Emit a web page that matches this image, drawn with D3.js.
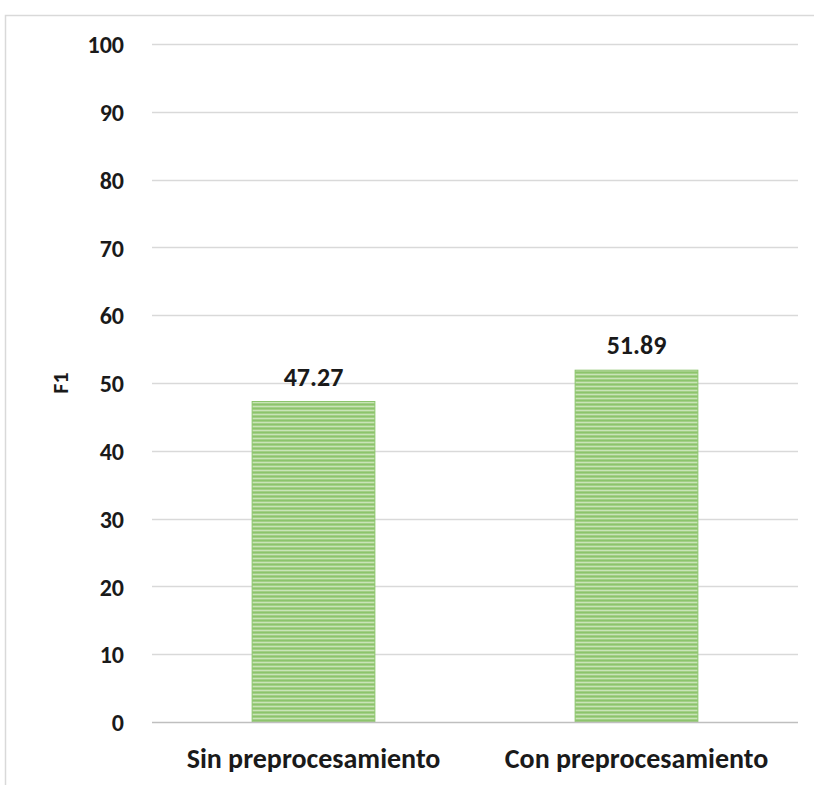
<!DOCTYPE html>
<html>
<head>
<meta charset="utf-8">
<script src="https://cdn.jsdelivr.net/npm/d3@7"></script>
<style>
  html, body { margin: 0; padding: 0; background: #ffffff; }
  svg { display: block; }
  text { font-family: Carlito, Calibri, Lato, "Open Sans", sans-serif; font-weight: bold; fill: #1a1a1a; }
</style>
</head>
<body>
<svg id="chart" width="814" height="785"></svg>
<script>
// Chart data
const categories = ["Sin preprocesamiento", "Con preprocesamiento"];
const f1Values = [47.27, 51.89];
const valueLabels = ["47.27", "51.89"];
const yTicks = [0, 10, 20, 30, 40, 50, 60, 70, 80, 90, 100];
const yTitle = "F1";

const svg = d3.select("#chart");
const W = 814, H = 785;
const margin = { top: 44, right: 16, bottom: 63, left: 152 };

// Outer chart frame (top and left edges)
svg.append("path")
  .attr("d", `M5.5,${H} L5.5,15.5 L${W},15.5`)
  .attr("fill", "none")
  .attr("stroke", "#d9d9d9")
  .attr("stroke-width", 1.5);

// Horizontal striped fill for the bars
const defs = svg.append("defs");
const pat = defs.append("pattern")
  .attr("id", "stripes")
  .attr("patternUnits", "userSpaceOnUse")
  .attr("width", 8).attr("height", 4);
const rows = ["#8cc46c", "#a3cf86", "#c9e4b8", "#a3cf86"];
rows.forEach((c, i) => {
  pat.append("rect").attr("x", 0).attr("y", i).attr("width", 8).attr("height", 1).attr("fill", c);
});

const x = d3.scaleBand()
  .domain(categories)
  .range([margin.left, W - margin.right])
  .paddingInner(0.62)
  .paddingOuter(0.31);

const y = d3.scaleLinear()
  .domain([0, 100])
  .range([H - margin.bottom, margin.top]);

// Gridlines
svg.append("g")
  .selectAll("line")
  .data(yTicks.filter(d => d > 0))
  .join("line")
  .attr("x1", margin.left).attr("x2", W - margin.right)
  .attr("y1", d => Math.round(y(d)) + 0.5).attr("y2", d => Math.round(y(d)) + 0.5)
  .attr("stroke", "#d9d9d9").attr("stroke-width", 1.5);

// Y axis tick labels
const yAxis = d3.axisLeft(y).tickValues(yTicks).tickSize(0).tickPadding(0);
const gy = svg.append("g")
  .attr("transform", `translate(124,0)`)
  .call(yAxis);
gy.select(".domain").remove();
gy.selectAll("text")
  .style("font-size", "24px")
  .attr("fill", "#1a1a1a")
  .attr("dy", "0.36em");

// Bars
svg.append("g")
  .selectAll("rect")
  .data(categories)
  .join("rect")
  .attr("x", d => x(d))
  .attr("width", x.bandwidth())
  .attr("y", (d, i) => y(f1Values[i]))
  .attr("height", (d, i) => y(0) - y(f1Values[i]))
  .attr("fill", "url(#stripes)")
  .attr("stroke", "#8cc46c")
  .attr("stroke-width", 1);

// Baseline
svg.append("line")
  .attr("x1", margin.left).attr("x2", W - margin.right)
  .attr("y1", y(0) + 0.5).attr("y2", y(0) + 0.5)
  .attr("stroke", "#bfbfbf").attr("stroke-width", 1.5);

// Value labels
svg.append("g")
  .selectAll("text")
  .data(categories)
  .join("text")
  .attr("x", d => x(d) + x.bandwidth() / 2)
  .attr("y", (d, i) => y(f1Values[i]) - 16)
  .attr("text-anchor", "middle")
  .style("font-size", "26px")
  .text((d, i) => valueLabels[i]);

// Category labels
const xAxis = d3.axisBottom(x).tickSize(0).tickPadding(0);
const gx = svg.append("g")
  .attr("transform", `translate(0,${y(0)})`)
  .call(xAxis);
gx.select(".domain").remove();
gx.selectAll("text")
  .attr("dy", null)
  .attr("y", 46)
  .style("font-size", "28px")
  .attr("fill", "#1a1a1a");

// Y axis title
svg.append("text")
  .attr("transform", `translate(68,${(y(0) + y(100)) / 2}) rotate(-90)`)
  .attr("text-anchor", "middle")
  .style("font-size", "22px")
  .text(yTitle);
</script>
</body>
</html>
